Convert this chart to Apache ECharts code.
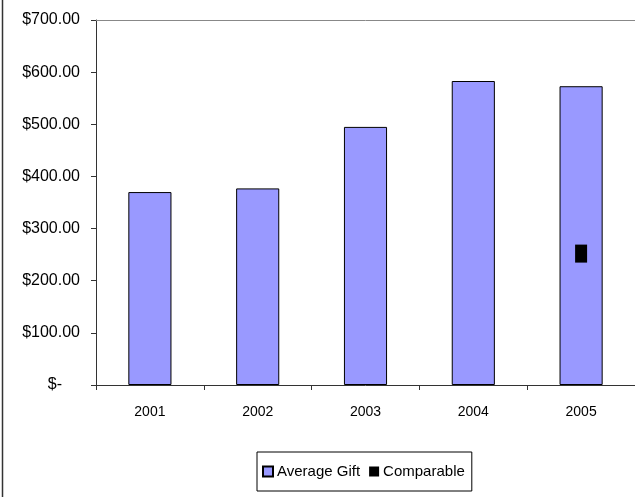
<!DOCTYPE html>
<html>
<head>
<meta charset="utf-8">
<script src="https://cdn.jsdelivr.net/npm/echarts@6/dist/echarts.min.js"></script>
<style>
html,body{margin:0;padding:0;background:#fff;}
#c{width:635px;height:497px;}
</style>
</head>
<body>
<div id="c"></div>
<script>
const categories = ['2001', '2002', '2003', '2004', '2005'];
const averageGift = [370, 377, 495, 583, 573];
const comparable = [null, null, null, null, 252];
const yTicks = [0, 100, 200, 300, 400, 500, 600, 700];

const FONT = "'Liberation Sans', Arial, sans-serif";
const chart = echarts.init(document.getElementById('c'), null, {renderer: 'canvas'});
chart.setOption({
  animation: false,
  backgroundColor: '#fff',
  grid: {left: 96, top: 20, right: -2, bottom: 112, show: false, containLabel: false},
  legend: {
    left: 257, top: 452,
    data: [{name: 'Average Gift', icon: 'rect'}, {name: 'Comparable', icon: 'rect', itemStyle: {color: '#000', borderWidth: 0}}],
    borderColor: '#000', borderWidth: 1,
    padding: [12, 7, 12, 5],
    itemWidth: 10, itemHeight: 10, itemGap: 9,
    textStyle: {fontFamily: FONT, fontSize: 15, color: '#000', padding: [0, 0, 0, -1]}
  },
  xAxis: [{
    type: 'category', data: categories,
    axisLine: {lineStyle: {color: '#333', width: 1}},
    axisTick: {show: true, alignWithLabel: false, length: 5, lineStyle: {color: '#333'}},
    axisLabel: {fontFamily: FONT, fontSize: 14, color: '#000', margin: 20}
  }, {
    type: 'category', data: categories, position: 'top',
    axisLine: {show: true, lineStyle: {color: '#888', width: 1}},
    axisTick: {show: false}, axisLabel: {show: false}
  }],
  yAxis: {
    type: 'value', min: yTicks[0], max: yTicks[yTicks.length - 1], interval: 100,
    splitLine: {show: false},
    axisLine: {show: true, lineStyle: {color: '#333', width: 1}},
    axisTick: {show: true, length: 5, lineStyle: {color: '#333'}},
    axisLabel: {
      fontFamily: FONT, fontSize: 16, color: '#000', margin: 16,
      formatter: v => v === 0 ? '{z|$-}' : '$' + v.toFixed(2),
      rich: {z: {fontFamily: FONT, fontSize: 16, color: '#000', padding: [0, 18, 0, 0]}}
    }
  },
  series: [
    {
      name: 'Average Gift', type: 'bar', data: averageGift, barWidth: '40%',
      itemStyle: {color: '#9999FF', borderColor: '#000', borderWidth: 1}
    },
    {
      name: 'Comparable', type: 'line', data: comparable,
      symbol: 'rect', symbolSize: [12, 18], showSymbol: true,
      lineStyle: {width: 0}, itemStyle: {color: '#000'}
    }
  ],
  graphic: [{
    type: 'line', shape: {x1: 2.5, y1: 0, x2: 2.5, y2: 497},
    style: {stroke: '#333', lineWidth: 1.5}
  }]
});
</script>
</body>
</html>
